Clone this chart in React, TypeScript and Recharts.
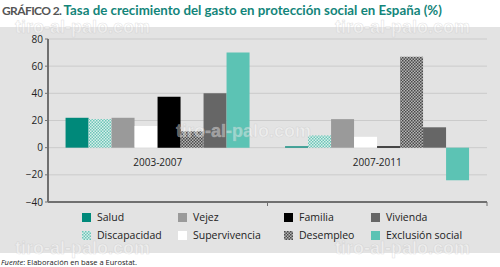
import React from "react"
import { BarChart, Bar, XAxis, YAxis, CartesianGrid } from "recharts"

const categories = ["2003-2007", "2007-2011"]
const seriesNames = ["Salud", "Discapacidad", "Vejez", "Supervivencia", "Familia", "Desempleo", "Vivienda", "Exclusión social"]
const salud = [22, 1]
const discapacidad = [21, 9]
const vejez = [22, 21]
const supervivencia = [16, 8]
const familia = [37.5, 1]
const desempleo = [12, 67]
const vivienda = [40, 15]
const exclusion = [70, -24]
const yTicks = [-40, -20, 0, 20, 40, 60, 80]
const legendOrder = ["Salud", "Vejez", "Familia", "Vivienda", "Discapacidad", "Supervivencia", "Desempleo", "Exclusión social"]

const seriesValues = [salud, discapacidad, vejez, supervivencia, familia, desempleo, vivienda, exclusion]
const fills = ["#00897a", "url(#discap)", "#9a9a9a", "#ffffff", "#000000", "url(#desemp)", "#666666", "#5cc3b4"]

const data = categories.map((c, i) => {
  const row: Record<string, string | number> = { name: c }
  seriesNames.forEach((s, j) => (row[s] = seriesValues[j][i]))
  return row
})

const FONT = "'Open Sans', 'Noto Sans', sans-serif"

function CatTick(props: any) {
  const { x, y, payload } = props
  const off = payload && typeof payload.offset === "number" ? payload.offset : 0
  return (
    <g>
      <text x={x} y={y - 44} textAnchor="middle" fontSize={10} fill="#222" fontFamily={FONT}>
        {payload.value}
      </text>
      {off > 0 && <line x1={x + off} x2={x + off} y1={y - 8} y2={y - 4} stroke="#707070" strokeWidth={1} />}
    </g>
  )
}

function Swatch({ name }: { name: string }) {
  const i = seriesNames.indexOf(name)
  return (
    <svg width={9} height={9} style={{ display: "block" }}>
      <rect width={9} height={9} fill={fills[i]} />
    </svg>
  )
}

const Watermark = ({ x, y }: { x: number; y: number }) => (
  <div
    style={{
      position: "absolute",
      left: x,
      top: y,
      fontFamily: "Arial, 'Liberation Sans', sans-serif",
      fontWeight: 700,
      fontSize: 18,
      lineHeight: "20px",
      color: "rgba(255,255,255,0.4)",
      WebkitTextStroke: "0.6px rgba(190,190,190,0.45)",
      pointerEvents: "none",
      whiteSpace: "nowrap",
    }}
  >
    tiro-al-palo.com
  </div>
)

export default function App() {
  const cols = [82, 178, 284, 371]
  return (
    <div style={{ position: "absolute", left: 0, top: 0, width: 500, height: 267, background: "#fff", overflow: "hidden", fontFamily: FONT }}>
      <svg width={0} height={0} style={{ position: "absolute" }}>
        <defs>
          <pattern id="discap" width={3} height={3} patternUnits="userSpaceOnUse">
            <rect width={3} height={3} fill="#d9efeb" />
            <rect width={1.5} height={1.5} fill="#6cc5b7" />
            <rect x={1.5} y={1.5} width={1.5} height={1.5} fill="#6cc5b7" />
          </pattern>
          <pattern id="desemp" width={3} height={3} patternUnits="userSpaceOnUse">
            <rect width={3} height={3} fill="#b5b5b5" />
            <rect width={1.5} height={1.5} fill="#4a4a4a" />
            <rect x={1.5} y={1.5} width={1.5} height={1.5} fill="#4a4a4a" />
          </pattern>
        </defs>
      </svg>
      <div style={{ position: "absolute", left: 2, top: 2, fontSize: 13.3, fontWeight: 700, whiteSpace: "nowrap", fontFamily: "Lato, sans-serif" }}>
        <span style={{ color: "#555", fontSize: 12, letterSpacing: -0.6 }}>GRÁFICO 2. </span>
        <span style={{ color: "#13857a" }}>Tasa de crecimiento del gasto en protección social en España (%)</span>
      </div>
      <div style={{ position: "absolute", left: 0, top: 27, width: 500, height: 226, background: "#e3e3e3" }} />
      <Watermark x={15} y={17} />
      <Watermark x={335} y={17} />
      <div style={{ position: "absolute", left: 0, top: 0 }}>
        <BarChart width={500} height={210} data={data} margin={{ top: 39, right: 13, bottom: 0, left: 0 }} barGap={0} barCategoryGap="8%">
          <CartesianGrid vertical={false} stroke="#cbcbcb" strokeWidth={1} />
          <XAxis
            dataKey="name"
            axisLine={{ stroke: "#707070", strokeWidth: 2 }}
            tickLine={false}
            tick={<CatTick />}
            interval={0}
            height={8}
          />
          <YAxis
            domain={[-40, 80]}
            ticks={yTicks}
            interval={0}
            width={48}
            axisLine={{ stroke: "#707070", strokeWidth: 2 }}
            tickLine={{ stroke: "#707070" }}
            tickSize={3}
            tick={{ fontSize: 10, fill: "#222", fontFamily: FONT }}
            tickFormatter={(v: number) => (v < 0 ? "\u2212" + Math.abs(v) : String(v))}
          />
          {seriesNames.map((s, j) => (
            <Bar key={s} dataKey={s} fill={fills[j]} isAnimationActive={false} />
          ))}
        </BarChart>
      </div>
      <Watermark x={176} y={121} />
      {legendOrder.map((name, k) => {
        const col = k % 4
        const row = Math.floor(k / 4)
        return (
          <div
            key={name}
            style={{ position: "absolute", left: cols[col], top: 210 + row * 18, display: "flex", alignItems: "center", gap: 6, fontSize: 10.5, color: "#222", whiteSpace: "nowrap" }}
          >
            <Swatch name={name} />
            <span>{name}</span>
          </div>
        )
      })}
      <Watermark x={15} y={238} />
      <Watermark x={335} y={238} />
      <div style={{ position: "absolute", left: 1, top: 257, fontSize: 7.5, color: "#222", whiteSpace: "nowrap" }}>
        <i>Fuente</i>: Elaboración en base a Eurostat.
      </div>
    </div>
  )
}
